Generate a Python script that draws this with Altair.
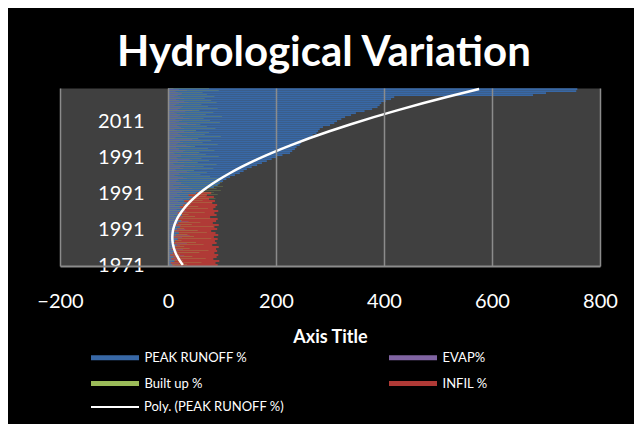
import altair as alt
import pandas as pd

# ---- data (row 0 = bottom category) ----
peak_runoff = [8, 5, 12, 6, 10, 4, 9, 14, 7, 11,
               16, 9, 13, 18, 10, 15, 20, 12, 17, 22,
               14, 19, 24, 16, 21, 26, 18, 25, 30, 22,
               28, 35, 30, 40, 45, 38, 52, 60, 72, 85,
               92, 96, 102, 108, 115, 124, 133, 140, 146, 155,
               165, 174, 183, 192, 201, 212, 226, 230, 235, 238,
               244, 246, 250, 256, 263, 268, 275, 278, 281, 287,
               300, 308, 313, 321, 328, 339, 348, 364, 378, 388,
               392, 395, 403, 413, 419, 676, 700, 756, 758]
built_up = [35, 62, 28, 70, 45, 22, 58, 75, 40, 30,
            66, 52, 25, 80, 48, 36, 72, 55, 30, 84,
            44, 60, 26, 78, 50, 38, 68, 32, 74, 56,
            42, 82, 64, 88, 70, 92, 85, 98, 90, 102,
            95, 100, 88, 96, 78, 60, 72, 48, 84, 66,
            90, 55, 76, 62, 94, 70, 58, 86, 74, 50,
            92, 64, 80, 56, 98, 68, 76, 52, 88, 72,
            60, 96, 78, 66, 100, 70, 84, 58, 92, 74,
            62, 90, 80, 68, 86, 72, 64, 94, 76]
infil = [92, 88, 95, 84, 90, 93, 86, 91, 89, 94,
         82, 90, 87, 92, 85, 93, 88, 80, 91, 86,
         94, 83, 89, 92, 78, 90, 86, 93, 84, 88,
         91, 82, 87, 76, 85, 72, 80, 60, 45, 38,
         30, 25, 20, 35, 18, 22, 40, 15, 28, 50,
         12, 30, 45, 18, 25, 55, 10, 32, 20, 42,
         15, 28, 60, 12, 35, 22, 48, 16, 30, 20,
         52, 14, 26, 40, 18, 32, 12, 45, 22, 28,
         15, 38, 20, 30, 12, 25, 18, 35, 10]
evap = [12, 20, 8, 25, 15, 30, 10, 18, 28, 14,
        22, 35, 9, 16, 26, 40, 12, 20, 32, 10,
        24, 18, 38, 14, 28, 11, 22, 34, 16, 25,
        13, 30, 19, 27, 12, 22, 17, 26, 14, 20,
        10, 24, 15, 18, 28, 12, 20, 35, 14, 22,
        30, 10, 18, 40, 16, 24, 12, 28, 20, 15,
        34, 18, 22, 45, 14, 26, 19, 30, 12, 24,
        17, 36, 20, 14, 28, 22, 16, 32, 18, 25,
        12, 20, 30, 15, 22, 18, 26, 14, 20]

tick_rows = [0, 18, 36, 54, 72]
tick_labels = ["1971", "1991", "1991", "1991", "2011"]
x_ticks = [-200, 0, 200, 400, 600, 800]

# legend order (two columns, filled column by column)
series_names = ["PEAK RUNOFF %", "Built up %", "EVAP%", "INFIL %"]
trend_name = "Poly. (PEAK RUNOFF %)"
palette = ["#3868a6", "#9bbb59", "#8064a2", "#b03a36"]
trend_color = "#ffffff"

# drawing style: order of drawing and the share of each category row a series fills
band_style = {"INFIL %": (0.0, 0.95), "PEAK RUNOFF %": (0.0, 0.92),
              "Built up %": (0.6, 0.76), "EVAP%": (0.1, 0.3)}
series_values = {"INFIL %": infil, "PEAK RUNOFF %": peak_runoff,
                 "Built up %": built_up, "EVAP%": evap}

records = []
for name in ["INFIL %", "PEAK RUNOFF %", "Built up %", "EVAP%"]:
    lo, hi = band_style[name]
    for i, v in enumerate(series_values[name]):
        records.append({"row": i, "series": name, "value": v,
                        "y0": i - 0.5 + lo, "y1": i - 0.5 + hi})
df = pd.DataFrame(records)

label_expr = " : ".join(
    [f"datum.value == {r} ? '{t}'" for r, t in zip(tick_rows, tick_labels)]
) + " : ''"

x_scale = alt.Scale(domain=[x_ticks[0], x_ticks[-1]], nice=False, zero=False)
y_scale = alt.Scale(domain=[-0.5, len(peak_runoff) - 0.5], nice=False, zero=False)

x_axis = alt.Axis(values=x_ticks, format="d", grid=True, gridColor="#8c8c8c",
                  gridWidth=1.5, domainColor="#8c8c8c", domainWidth=2,
                  ticks=False, tickSize=0, labelFont="Lato", labelFontSize=20,
                  labelColor="white", labelPadding=25, labelFlush=False,
                  labelOverlap=False, title="Axis Title", titleFont="Lato",
                  titleFontSize=18, titleFontWeight="bold", titleColor="white",
                  titlePadding=17, zindex=1)
y_axis = alt.Axis(values=tick_rows, labelExpr=label_expr, grid=False, domain=False,
                  ticks=False, tickSize=0, offset=-84, labelPadding=0,
                  labelFont="Lato", labelFontSize=20, labelColor="white",
                  labelAlign="right", labelBaseline="middle", labelOverlap=False,
                  labelFlush=False, title="")

bar_legend = alt.Legend(
    title=None, orient="none", legendX=31, legendY=263, columns=2,
    columnPadding=142, rowPadding=12, symbolType="M-4,-0.4H4V0.4H-4Z",
    symbolSize=144, symbolStrokeWidth=0, symbolOffset=17.5, labelOffset=23,
    labelFont="Lato", labelFontSize=13, labelColor="white",
)
trend_legend = alt.Legend(
    title=None, orient="none", legendX=31, legendY=312,
    symbolType="M-4,0H4", symbolSize=144, symbolStrokeWidth=2,
    symbolOffset=17, labelOffset=22,
    labelFont="Lato", labelFontSize=13, labelColor="white",
)

bars = alt.Chart(df).mark_rect().encode(
    x=alt.X("value:Q", scale=x_scale, axis=x_axis),
    x2=alt.datum(0),
    y=alt.Y("y0:Q", scale=y_scale, axis=y_axis),
    y2="y1:Q",
    color=alt.Color("series:N", scale=alt.Scale(domain=series_names, range=palette),
                    legend=bar_legend),
)

trend = alt.Chart(df).transform_filter(
    alt.datum.series == "PEAK RUNOFF %"
).transform_regression(
    "row", "value", method="poly", order=2
).transform_calculate(
    trend=f"'{trend_name}'"
).mark_line(strokeWidth=2.5).encode(
    x=alt.X("value:Q", scale=x_scale, axis=x_axis),
    y=alt.Y("row:Q", scale=y_scale, axis=y_axis),
    stroke=alt.Stroke("trend:N", scale=alt.Scale(domain=[trend_name], range=[trend_color]),
                      legend=trend_legend),
    order=alt.Order("row:Q"),
)

chart = alt.layer(bars, trend).properties(
    width=540, height=178,
    autosize=alt.AutoSizeParams(type="none"),
    padding={"left": 52, "top": 80, "right": 34, "bottom": 158},
    background="black",
    title=alt.Title("Hydrological Variation", font="Lato", fontSize=42,
                    fontWeight="bold", color="white", anchor="middle",
                    baseline="alphabetic", offset=23, dx=-6, dy=47),
).configure_view(fill="#404040", stroke="transparent")

chart.save("out.html", embed_options={"renderer": "svg", "actions": False})
